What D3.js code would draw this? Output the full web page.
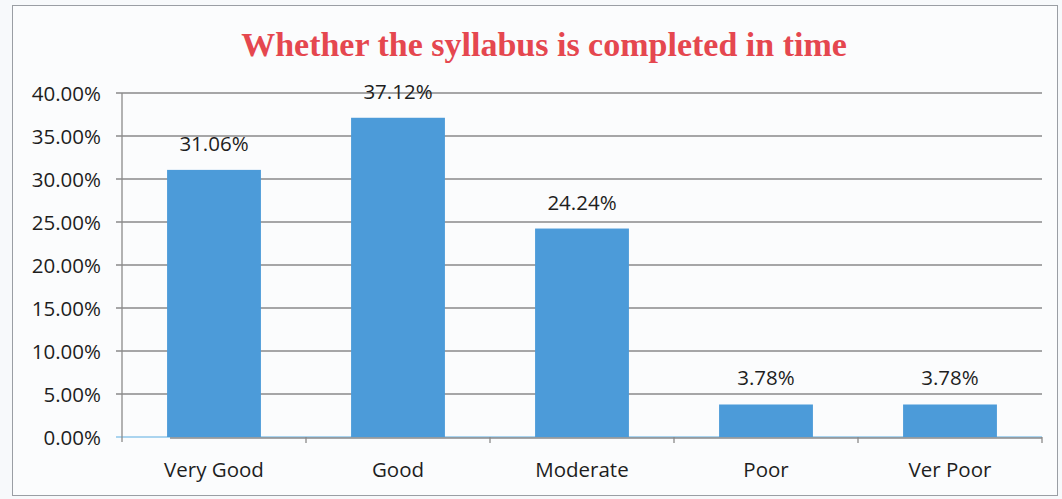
<!DOCTYPE html>
<meta charset="utf-8">
<script src="https://d3js.org/d3.v7.min.js"></script>
<style>
body { margin: 0; background: #fff; }
.tick text, .lbl, .cat { font-family: "Open Sans", sans-serif; fill: #1e1e1e; }
</style>
<body>
<script>

let width = 1062,
    height = 499;

let categories = ['Very Good', 'Good', 'Moderate', 'Poor', 'Ver Poor'];
let values = [31.06, 37.12, 24.24, 3.78, 3.78];
let labels = ['31.06%', '37.12%', '24.24%', '3.78%', '3.78%'];
let yTicks = [0, 5, 10, 15, 20, 25, 30, 35, 40];

let margin = {top: 93, right: 20, bottom: 62, left: 122};

let svg = d3.select("body").append("svg")
    .attr("width", width)
    .attr("height", height);

// page + frame
svg.append("rect")
    .attr("width", width).attr("height", height)
    .attr("fill", "#f7f9fb");
svg.append("rect")
    .attr("x", 12.5).attr("y", 5.5)
    .attr("width", 1045).attr("height", 490)
    .attr("fill", "#fbfcfd")
    .attr("stroke", "#9a9ea4");

let x = d3.scaleBand()
    .domain(categories)
    .range([margin.left, width - margin.right])
    .paddingInner(0.49)
    .paddingOuter(0.245);

let y = d3.scaleLinear()
    .domain([0, 40])
    .range([height - margin.bottom, margin.top]);

// gridlines
svg.append("g")
    .selectAll("line")
    .data(yTicks)
    .enter().append("line")
    .attr("x1", margin.left - 6)
    .attr("x2", width - margin.right)
    .attr("y1", d => y(d))
    .attr("y2", d => y(d))
    .attr("stroke", d => d === 0 ? "#8fc7ea" : "#8a8a8a")
    .attr("stroke-width", 1.3);

// y axis labels
let yAxis = svg.append("g")
    .attr("transform", `translate(${margin.left},0)`)
    .call(d3.axisLeft(y).tickValues(yTicks).tickSize(0).tickPadding(21)
        .tickFormat(d => d3.format(".2f")(d) + "%"));
yAxis.select(".domain").remove();
yAxis.selectAll("text").style("font-size", "20.5px").attr("dy", "0.35em");

// bars
svg.append("g")
    .selectAll("rect")
    .data(values)
    .enter().append("rect")
    .attr("x", (d, i) => x(categories[i]))
    .attr("width", x.bandwidth())
    .attr("y", d => y(d))
    .attr("height", d => y(0) - y(d))
    .attr("fill", "#4c9bd9");

// value labels
svg.append("g")
    .selectAll("text")
    .data(values)
    .enter().append("text")
    .attr("class", "lbl")
    .attr("x", (d, i) => x(categories[i]) + x.bandwidth() / 2)
    .attr("y", d => y(d) - 19)
    .attr("text-anchor", "middle")
    .style("font-size", "20.5px")
    .text((d, i) => labels[i]);

// axes lines
svg.append("line")
    .attr("x1", margin.left).attr("x2", margin.left)
    .attr("y1", y(40)).attr("y2", y(0) + 5)
    .attr("stroke", "#8a8a8a").attr("stroke-width", 1.3);
svg.append("line")
    .attr("x1", margin.left + 48).attr("x2", width - margin.right)
    .attr("y1", y(0) + 1).attr("y2", y(0) + 1)
    .attr("stroke", "#8a8a8a").attr("stroke-width", 1.3);

let bounds = categories.map(c => x(c) - x.step() * x.paddingInner() / 2).concat([width - margin.right]);
svg.append("g")
    .selectAll("line")
    .data(bounds.slice(1))
    .enter().append("line")
    .attr("x1", d => d).attr("x2", d => d)
    .attr("y1", y(0)).attr("y2", y(0) + 6)
    .attr("stroke", "#8a8a8a").attr("stroke-width", 1.3);

// category labels
svg.append("g")
    .selectAll("text")
    .data(categories)
    .enter().append("text")
    .attr("class", "cat")
    .attr("x", d => x(d) + x.bandwidth() / 2)
    .attr("y", 477)
    .attr("text-anchor", "middle")
    .style("font-size", "20.5px")
    .text(d => d);

// title
svg.append("text")
    .attr("x", 544)
    .attr("y", 56)
    .attr("text-anchor", "middle")
    .style("font-family", "'Liberation Serif', serif")
    .style("font-weight", "bold")
    .style("font-size", "34px")
    .attr("fill", "#e5474f")
    .text("Whether the syllabus is completed in time");

</script>
